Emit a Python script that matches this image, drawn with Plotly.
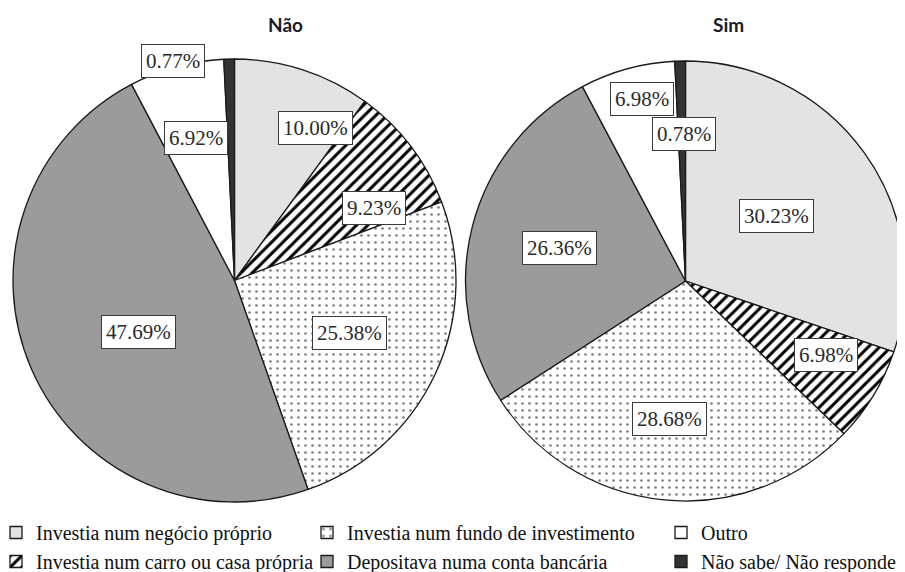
import math
import plotly.graph_objects as go

W, H = 905, 572
OFF = 8  # page body margin that shifts the figure on screen

categories = [
    "Investia num negócio próprio",
    "Investia num carro ou casa própria",
    "Investia num fundo de investimento",
    "Depositava numa conta bancária",
    "Outro",
    "Não sabe/ Não responde",
]
nao_values = [10.00, 9.23, 25.38, 47.69, 6.92, 0.77]
sim_values = [30.23, 6.98, 28.68, 26.36, 6.98, 0.78]
titles = ["Não", "Sim"]

SERIF = "Liberation Serif"

colors = ["#e3e3e3", "#ffffff", "#ffffff", "#9b9b9b", "#ffffff", "#333333"]
shapes = ["", "/", ".", "", "", ""]
fgcols = ["#000000", "#000000", "#808080", "#000000", "#000000", "#000000"]
sizes = [8, 8, 7, 8, 8, 8]
solid = [0.3, 0.38, 0.12, 0.3, 0.3, 0.3]
pattern = dict(shape=shapes, fgcolor=fgcols, bgcolor=colors, size=sizes, solidity=solid)
line = dict(color="#1a1a1a", width=1.3)


def fx(px):
    return (px - OFF) / W


def fy(py):
    return 1 - (py - OFF) / H


# pie geometry (screen pixels): centre and radius
pies = [
    dict(cx=234.5, cy=280.5, r=221.5),
    dict(cx=685.5, cy=281.0, r=220.0),
]

# label placement style: (radius fraction, angle offset deg)
label_style = [
    [(0.78, 10.0), (0.71, 9.8), (0.57, -0.5), (0.49, -4.7), (0.665, 0.0), (1.03, -14.2)],
    [(0.51, 0.0), (0.72, -3.6), (0.63, 1.2), (0.59, 0.0), (0.85, 1.8), (0.67, 0.8)],
]

fig = go.Figure()

# small helper pies (hidden under the left pie) that feed the three legend columns
legend_cols = [[0, 1], [2, 3], [4, 5]]
for li, idxs in enumerate(legend_cols):
    fig.add_trace(go.Pie(
        labels=[categories[i] for i in idxs],
        values=[1 for _ in idxs],
        sort=False, textinfo="none", hoverinfo="skip",
        marker=dict(
            colors=[colors[i] for i in idxs], line=line,
            pattern=dict(
                shape=[shapes[i] for i in idxs],
                fgcolor=[fgcols[i] for i in idxs],
                bgcolor=[colors[i] for i in idxs],
                size=[sizes[i] for i in idxs],
                solidity=[solid[i] for i in idxs],
            ),
        ),
        domain=dict(x=[0.2, 0.2005], y=[0.5, 0.5005]),
        legend="legend" if li == 0 else f"legend{li + 1}",
        showlegend=True,
    ))

for p, vals in zip(pies, [nao_values, sim_values]):
    fig.add_trace(go.Pie(
        labels=categories, values=vals, sort=False,
        direction="clockwise", rotation=0, textinfo="none",
        marker=dict(colors=colors, line=line, pattern=pattern),
        domain=dict(x=[fx(p["cx"] - p["r"]), fx(p["cx"] + p["r"])],
                    y=[fy(p["cy"] + p["r"]), fy(p["cy"] - p["r"])]),
        showlegend=False,
    ))

# value labels in boxes
for p, vals, styles in zip(pies, [nao_values, sim_values], label_style):
    r = p["r"]
    total = sum(vals)
    cum = 0.0
    for v, (frac, off) in zip(vals, styles):
        mid = (cum + v / 2) / total * 360 + off
        cum += v
        a = math.radians(mid)
        px = p["cx"] + frac * r * math.sin(a)
        py = p["cy"] - frac * r * math.cos(a)
        fig.add_annotation(
            x=fx(px), y=fy(py), xref="paper", yref="paper",
            xanchor="center", yanchor="middle",
            text=f"{v:.2f}%", showarrow=False,
            font=dict(family=SERIF, size=21, color="#2a2a2a"),
            bgcolor="#ffffff", bordercolor="#3a3a3a", borderwidth=1, borderpad=4,
        )

# titles
for t, (tx, ty) in zip(titles, [(285, 25), (728, 25)]):
    fig.add_annotation(
        x=fx(tx), y=fy(ty), xref="paper", yref="paper", text=f"<b>{t}</b>",
        xanchor="center", yanchor="middle",
        showarrow=False, font=dict(family="Lato", size=19, color="#1b1b2a"),
    )

leg_font = dict(family=SERIF, size=20, color="#111111")
leg_common = dict(orientation="v", yanchor="top", xanchor="left", font=leg_font,
                  bgcolor="rgba(0,0,0,0)", borderwidth=0, tracegroupgap=0,
                  y=fy(513))
fig.update_layout(
    width=W, height=H,
    margin=dict(l=0, r=0, t=0, b=0, autoexpand=False),
    paper_bgcolor="#ffffff", plot_bgcolor="#ffffff",
    showlegend=True,
    legend=dict(x=fx(-4), **leg_common),
    legend2=dict(x=fx(307), **leg_common),
    legend3=dict(x=fx(661), **leg_common),
)

fig.write_html("out.html")
